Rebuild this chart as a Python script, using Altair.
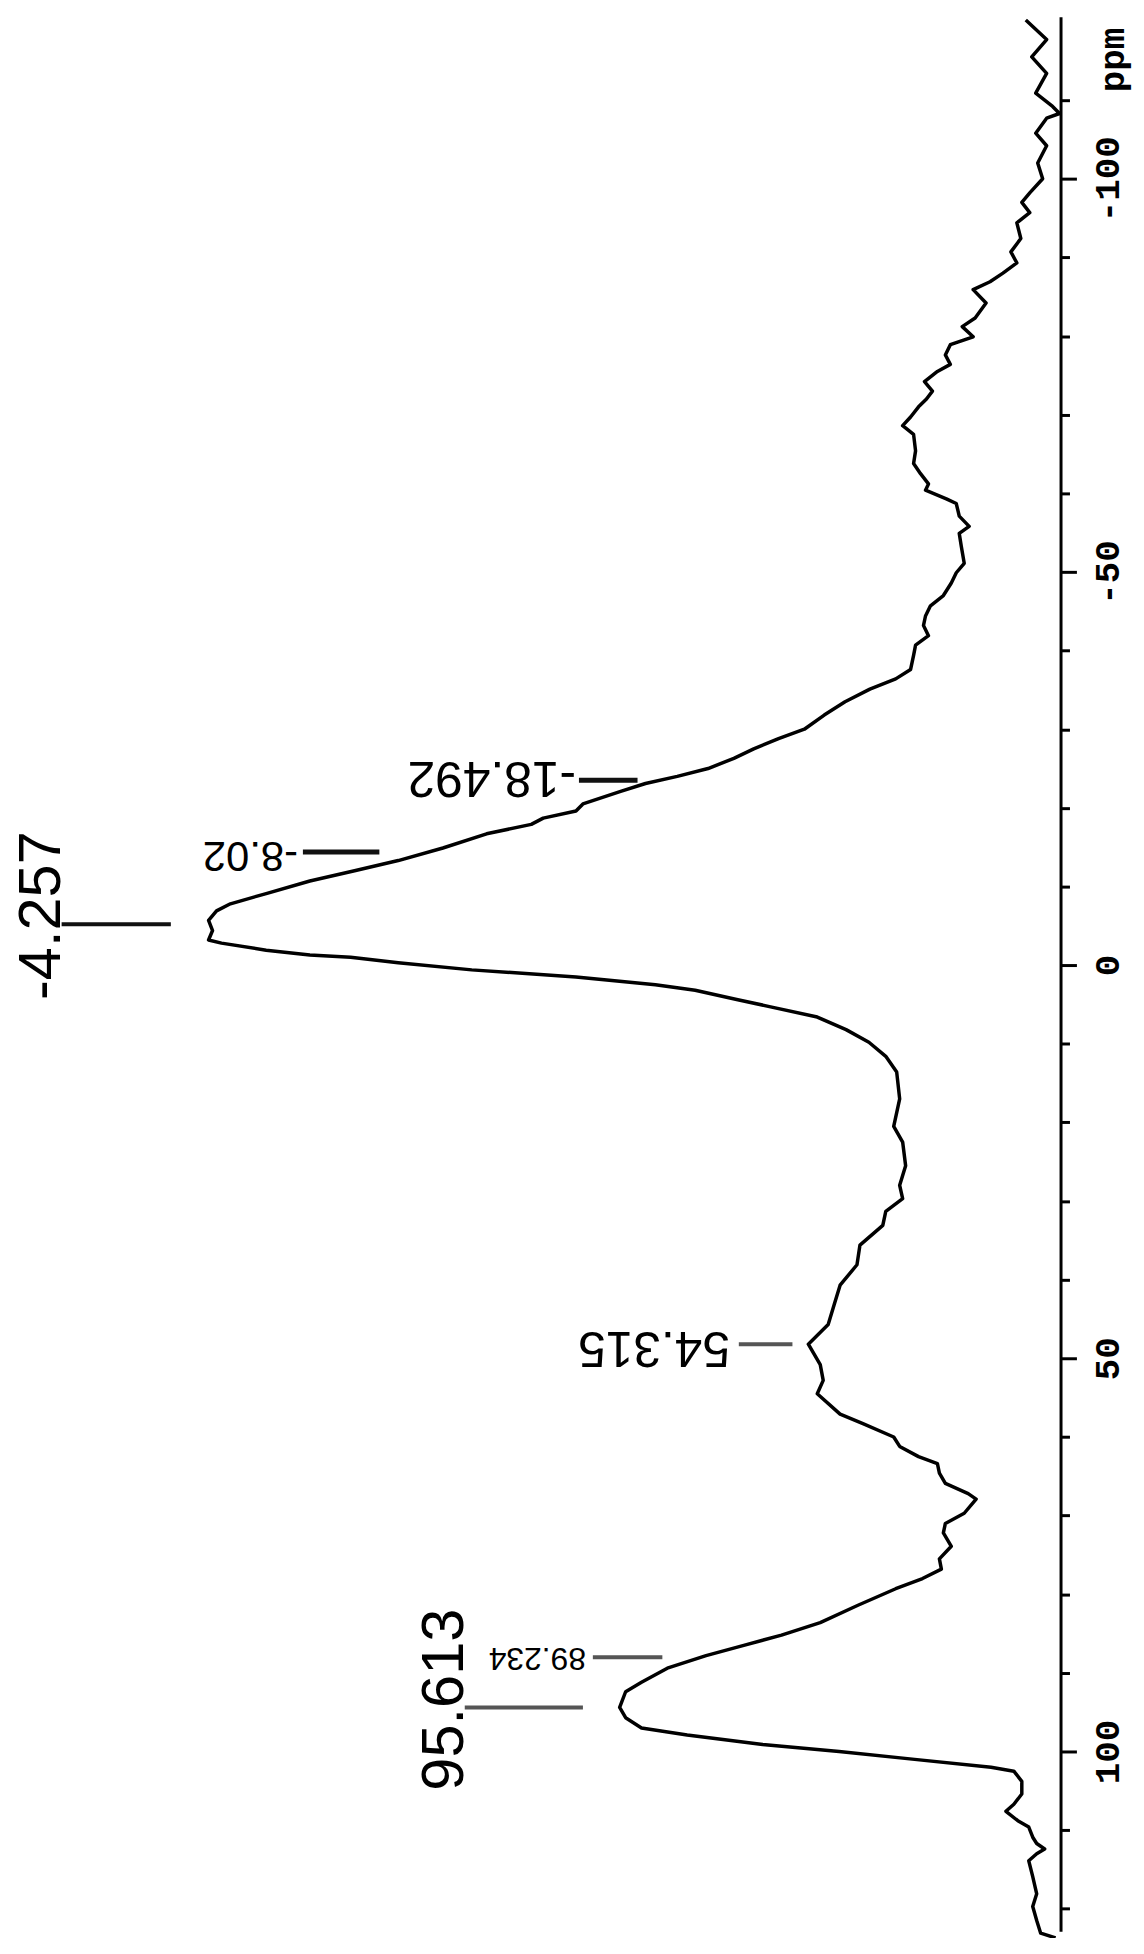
import altair as alt
import pandas as pd

# ---- spectrum trace (chemical shift in ppm, intensity in arbitrary units) ----
ppm = [-120.2, -117.7, -115.5, -113.4, -110.9, -109.2, -108.3, -107.7, -105.8, -104.2,
       -102.0, -100.0, -98.2, -97.0, -95.7, -94.4, -92.4, -90.7, -89.3, -88.0,
       -86.9, -85.9, -84.2, -82.3, -81.2, -79.9, -78.9, -77.6, -76.4, -75.5,
       -74.2, -73.0, -72.0, -71.0, -69.7, -68.6, -67.5, -65.4, -63.8, -62.5,
       -61.2, -60.4, -59.3, -58.7, -57.1, -55.8, -54.9, -53.3, -51.1, -49.9,
       -48.6, -47.0, -45.7, -44.4, -43.2, -41.9, -40.7, -39.4, -37.6, -36.4,
       -35.1, -33.5, -31.8, -30.0, -28.8, -27.5, -26.3, -25.0, -24.0, -23.1,
       -22.1, -20.5, -19.6, -18.7, -17.9, -16.7, -14.9, -13.3, -12.0, -10.7,
       -9.1, -7.8, -6.9, -5.7, -4.4, -3.2, -2.8, -1.9, -1.3, -1.0,
       -0.3, 0.6, 1.5, 2.5, 3.2, 4.4, 5.3, 6.6, 8.2, 9.8,
       11.6, 13.6, 17.0, 20.5, 22.5, 25.5, 28.0, 29.7, 31.3, 33.1,
       35.6, 38.1, 40.7, 43.2, 45.7, 48.2, 50.8, 52.8, 54.5, 57.1,
       58.3, 60.0, 61.2, 62.5, 63.4, 64.6, 65.9, 67.2, 67.9, 69.7,
       71.0, 72.2, 73.9, 75.5, 76.8, 78.0, 79.3, 81.4, 83.6, 85.2,
       86.5, 87.8, 89.4, 91.2, 92.4, 94.4, 95.7, 97.0, 97.9, 99.1,
       100.0, 101.0, 102.0, 102.5, 103.8, 105.4, 106.7, 107.6, 108.8, 109.6,
       110.9, 111.7, 112.4, 113.0, 113.9, 115.9, 118.1, 119.7, 121.5, 123.1,
       123.7]
intensity = [35, 14, 29, 14, 25, 8, 1, 14, 25, 14,
             23, 18, 31, 39, 31, 44, 40, 50, 44, 58,
             71, 88, 75, 86, 99, 88, 111, 116, 111, 124,
             137, 129, 135, 143, 151, 159, 148, 146, 148, 141,
             133, 136, 115, 105, 102, 92, 102, 100, 97, 105,
             110, 118, 131, 136, 138, 133, 146, 148, 151, 166,
             192, 217, 238, 258, 284, 309, 329, 355, 386, 418,
             443, 481, 488, 521, 533, 578, 622, 667, 711, 756,
             800, 836, 850, 858, 854, 858, 845, 800, 756, 715,
             667, 593, 488, 408, 368, 325, 292, 245, 216, 193,
             176, 165, 162, 168, 159, 156, 162, 159, 176, 179,
             202, 205, 222, 228, 234, 254, 242, 239, 245, 222,
             199, 168, 162, 143, 124, 122, 116, 93, 85, 97,
             116, 118, 110, 122, 120, 139, 166, 204, 242, 281,
             319, 357, 396, 422, 438, 444, 438, 422, 376, 300,
             223, 147, 70, 47, 39, 39, 47, 55, 43, 32,
             28, 24, 16, 24, 32, 28, 24, 28, 24, 20,
             5]

# ---- peak annotations ----
big_labels = ["-4.257", "95.613"]
big_label_ppm = [-6.3, 93.4]
big_label_int = [1026, 620]
big_line_ppm = [-5.2, 94.4]
big_line_from = [1006, 600]
big_line_to = [896, 481]

small_labels = ["-8.02", "-18.492", "54.315", "89.234"]
small_label_ppm = [-14.0, -24.0, 48.6, 88.1]
small_label_int = [768, 488, 333, 478]
small_line_ppm = [-14.4, -23.5, 48.2, 88.0]
small_line_from = [763, 485, 324, 471]
small_line_to = [686, 426, 270, 401]

# styles (kept apart from the data)
small_font_sizes = [42, 50, 50, 32]
line_colors = ["#111111", "#555555", "#111111", "#111111", "#555555", "#555555"]
line_widths = [4, 4, 5, 5, 4, 4]

tick_values = list(range(-110, 121, 10))

W, H = 1060, 1928

spec = pd.DataFrame({"ppm": ppm, "intensity": intensity})
big_df = pd.DataFrame({"ppm": big_label_ppm, "intensity": big_label_int, "label": big_labels})
small_df = pd.DataFrame({"ppm": small_label_ppm, "intensity": small_label_int,
                         "label": small_labels, "fs": small_font_sizes})
lines_df = pd.DataFrame({
    "ppm": big_line_ppm + small_line_ppm,
    "x1": big_line_from + small_line_from,
    "x2": big_line_to + small_line_to,
    "col": line_colors,
    "w": line_widths,
})

yscale = alt.Scale(domain=[-120.6, 122.85], reverse=True, nice=False, zero=False)
xscale = alt.Scale(domain=[0, 1060], reverse=True, nice=False, zero=False)

yaxis = alt.Axis(
    orient="right",
    values=tick_values,
    grid=False,
    domainColor="black",
    domainWidth=3,
    tickColor="black",
    tickWidth=3,
    tickSize={"condition": {"test": "datum.value % 50 === 0", "value": 16}, "value": 9},
    labelExpr="datum.value % 50 === 0 ? '' + datum.value : ''",
    labelAngle=270,
    labelAlign="center",
    labelBaseline="top",
    labelFont="Liberation Mono",
    labelFontWeight="bold",
    labelFontSize=36,
    labelColor="black",
    labelPadding=14,
    labelOverlap=False,
    labelBound=False,
    labelFlush=False,
    title="ppm",
    titleFont="Liberation Mono",
    titleFontWeight="bold",
    titleFontSize=36,
    titleColor="black",
    titleAngle=270,
    titleAlign="center",
    titleBaseline="middle",
    titleX=52,
    titleY=43,
)


def Y(field="ppm"):
    return alt.Y(f"{field}:Q", scale=yscale, axis=yaxis)


spectrum = alt.Chart(spec).mark_line(
    color="black", strokeWidth=3.5, strokeJoin="round"
).encode(
    y=Y(),
    x=alt.X("intensity:Q", scale=xscale, axis=None),
    order=alt.Order("ppm:Q"),
)

leaders = alt.Chart(lines_df).mark_rule(strokeCap="butt").encode(
    y=Y(),
    x=alt.X("x1:Q", scale=xscale, axis=None),
    x2="x2:Q",
    color=alt.Color("col:N", scale=None),
    strokeWidth=alt.StrokeWidth("w:Q", scale=None),
)

big_text = alt.Chart(big_df).mark_text(
    angle=270, align="center", baseline="middle",
    font="Liberation Sans", fontSize=60, color="black",
).encode(
    y=Y(),
    x=alt.X("intensity:Q", scale=xscale, axis=None),
    text="label:N",
)

small_text = alt.Chart(small_df).mark_text(
    angle=180, align="left", baseline="middle",
    font="Liberation Sans", color="black",
).encode(
    y=Y(),
    x=alt.X("intensity:Q", scale=xscale, axis=None),
    text="label:N",
    size=alt.Size("fs:Q", scale=None),
)

chart = alt.layer(spectrum, leaders, big_text, small_text).properties(
    width=W, height=H,
    autosize=alt.AutoSizeParams(type="none"),
    padding={"left": 0, "top": 2, "right": 76, "bottom": 0},
    background="white",
).configure_view(stroke=None)

chart.save("out.html", embed_options={"renderer": "svg", "actions": False})
